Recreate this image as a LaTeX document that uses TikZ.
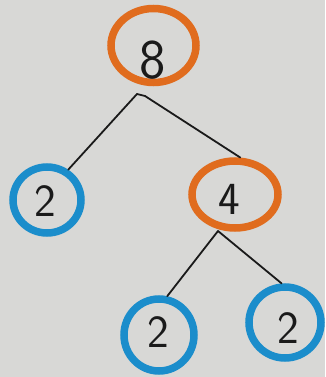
\documentclass[tikz,border=0pt]{standalone}
\usetikzlibrary{shapes.geometric}
\definecolor{paper}{HTML}{D8D8D6}
\definecolor{marker}{HTML}{E06C1E}
\definecolor{bluemk}{HTML}{1B8DCB}
\definecolor{ink}{HTML}{1A1A1A}
\tikzset{
  ring/.style={ellipse, line width=7.5pt, inner sep=0pt},
  composite/.style={ring, draw=marker},
  prime/.style={ring, draw=bluemk},
  digit/.style={text=ink, font=\sffamily\fontsize{46}{46}\selectfont, inner sep=0pt},
  branch/.style={draw=ink, line width=1.8pt, line cap=round, line join=round}
}
\begin{document}
\begin{tikzpicture}[x=1pt, y=-1pt]
  \fill[paper] (0,0) rectangle (325,377);
  \useasboundingbox (0,0) rectangle (325,377);

  % circled numbers of the factor tree
  \node[composite, minimum width=85pt, minimum height=74pt] (n8) at (153.5,45.5) {};
  \node[prime, minimum width=68pt, minimum height=66pt] (p1) at (47,200) {};
  \node[composite, minimum width=86pt, minimum height=67pt] (n4) at (235,194.5) {};
  \node[prime, minimum width=70pt, minimum height=72pt] (p2) at (159,335) {};
  \node[prime, minimum width=72pt, minimum height=71pt] (p3) at (285,322.5) {};

  % the digits
  \node[digit, font=\sffamily\fontsize{56}{56}\selectfont] (t8) at (153,60) {8};
  \node[digit] (t1) at (45,201) {2};
  \node[digit] (t4) at (229,199) {4};
  \node[digit] (t2) at (158,332) {2};
  \node[digit] (t3) at (288,328) {2};

  % branch points just below the composite numbers
  \coordinate (j8) at (137,94);
  \coordinate (j4) at (218,231);

  % branches
  \draw[branch] (j8) -- (p1.55);
  \draw[branch] (j8) -- ++(8,2) -- (n4.82);
  \draw[branch] (j4) -- (p2.78);
  \draw[branch] (j4) -- (p3.95);
\end{tikzpicture}
\end{document}
